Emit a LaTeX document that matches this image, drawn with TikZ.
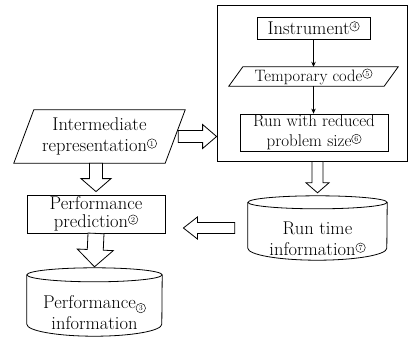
\documentclass[tikz,border=0pt]{standalone}
\usepackage{fontspec}
\usetikzlibrary{calc,arrows.meta}
\newcommand\circnum[1]{\tikz[baseline=(cn.base)]\node[circle, draw, line width=0.45pt, inner sep=0.6pt, minimum size=9.5pt, font=\fontsize{7.5}{7.5}\selectfont] (cn) {#1};}
\newcommand\cnum[1]{\raisebox{0.7ex}{\circnum{#1}}}
\newcommand\cnumlow[1]{\raisebox{-0.2ex}{\circnum{#1}}}
% hollow arrow: #1 from, #2 to, #3 shaft half width, #4 head half width, #5 head length
\newcommand\hollowarr[5]{%
  \coordinate (hc) at ($#2!#5!#1$);
  \draw[hollow] ($#1!#3!90:#2$) -- ($(hc)!#3!90:#2$) -- ($(hc)!#4!90:#2$) -- #2
    -- ($(hc)!#4!-90:#2$) -- ($(hc)!#3!-90:#2$) -- ($#1!#3!-90:#2$) -- cycle;}
% parallelogram around node #1 with slant offset #2
\newcommand\parallelo[2]{%
  \draw[outline] ([xshift=#2]#1.north west) -- ([xshift=#2]#1.north east)
    -- ([xshift=-#2]#1.south east) -- ([xshift=-#2]#1.south west) -- cycle;}
% cylinder around node #1: #2 half width, #3 top radius, #4 bottom radius
\newcommand\cylin[4]{%
  \draw[outline] ([yshift=-#3]#1.north west) -- ([yshift=#4]#1.south west)
    arc[start angle=180, end angle=360, x radius=#2, y radius=#4]
    -- ([yshift=-#3]#1.north east);
  \draw[outline] ([yshift=-#3]#1.north) ellipse[x radius=#2, y radius=#3];}
\tikzset{
  outline/.style={line width=0.8pt},
  box/.style={draw, line width=0.8pt, inner sep=1pt, align=center},
  plain/.style={inner sep=1pt, align=center},
  hollow/.style={draw, line width=0.8pt, fill=white, line join=miter},
  smallarr/.style={line width=0.7pt, -{Stealth[length=5pt,width=4.5pt]}}
}
\begin{document}
\begin{tikzpicture}[x=1pt,y=-1pt,font=\fontsize{18.5}{21}\selectfont]
\useasboundingbox (0,0) rectangle (411,337);
\fill[white] (0,0) rectangle (411,337);
% top-right group
\node[box, minimum width=190pt, minimum height=156pt] (big) at (312,83) {};
\node[box, minimum width=113pt, minimum height=22pt] (instr) at (313.5,28) {Instrument\cnum{4}};
\node[plain, minimum width=155pt, minimum height=19pt, font=\fontsize{16.5}{20}\selectfont] (temp) at (313.5,76.5) {Temporary code\cnum{5}};
\parallelo{temp}{7pt}
\node[box, minimum width=148pt, minimum height=37pt, font=\fontsize{17}{19.5}\selectfont] (run) at (314,132.5) {Run with reduced\\problem size\cnum{6}};
\draw[smallarr] (instr.south) -- (temp.north);
\draw[smallarr] (temp.south) -- (temp.south |- run.north);
% left column
\node[plain, minimum width=151pt, minimum height=53pt] (inter) at (99.5,136.5) {Intermediate\\representation\cnum{1}};
\parallelo{inter}{10pt}
\node[box, minimum width=138pt, minimum height=38pt, font=\fontsize{18.5}{18}\selectfont] (pp) at (96,214) {Performance\\prediction\cnum{2}};
\node[plain, minimum width=135pt, minimum height=68pt] (pi) at (94.5,302) {};
\cylin{pi}{67.5pt}{7pt}{12pt}
\node[plain] (pit) at (94.5,313) {Performance\cnumlow{3}\\information};
% run time cylinder
\node[plain, minimum width=139pt, minimum height=64pt] (rt) at (317.5,228) {};
\cylin{rt}{69.5pt}{6.5pt}{12pt}
\node[plain] (rtt) at (317.5,239) {Run time\\information\cnum{7}};
% hollow arrows
\coordinate (a1s) at ($(inter.east)+(3pt,0)$);
\coordinate (a1e) at (a1s -| big.west);
\hollowarr{(a1s)}{(a1e)}{6pt}{12pt}{14pt}
\coordinate (a2s) at (inter.south -| pp.north);
\coordinate (a2e) at ($(pp.north)+(0,3pt)$);
\hollowarr{(a2s)}{(a2e)}{6.5pt}{15pt}{13pt}
\coordinate (a3s) at (pp.south);
\coordinate (a3e) at ($(pi.north)+(0,1pt)$);
\hollowarr{(a3s)}{(a3e)}{8pt}{18pt}{17pt}
\coordinate (a4s) at (big.south -| rt.north);
\coordinate (a4e) at ($(rt.north)+(0,3pt)$);
\hollowarr{(a4s)}{(a4e)}{5.5pt}{11.5pt}{10pt}
\coordinate (a5s) at ($(rt.west)+(-13pt,0)$);
\coordinate (a5e) at ($(pp.east |- rt.west)+(18pt,0)$);
\hollowarr{(a5s)}{(a5e)}{5.5pt}{11pt}{14pt}
\end{tikzpicture}
\end{document}
